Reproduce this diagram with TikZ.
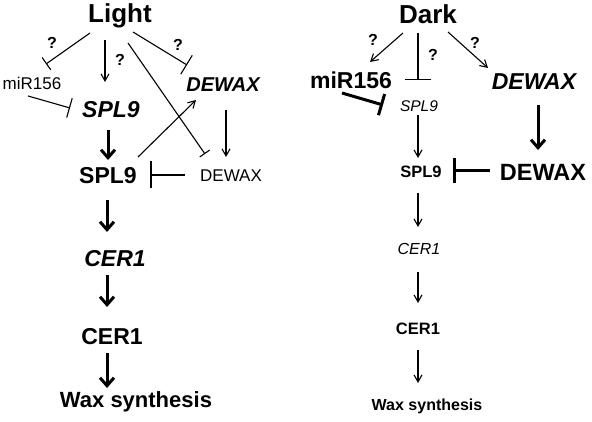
\documentclass[tikz,border=0pt]{standalone}
\usepackage{fontspec}
\setmainfont{Liberation Sans}
\usetikzlibrary{arrows.meta}
\begin{document}
\begin{tikzpicture}[x=1pt,y=-1pt,
  every node/.style={inner sep=0pt,outer sep=0pt},
  lbl/.style={font=\fontsize{#1}{#1}\selectfont},
  blbl/.style={font=\fontsize{#1}{#1}\selectfont\bfseries},
  ilbl/.style={font=\fontsize{#1}{#1}\selectfont\itshape},
  bilbl/.style={font=\fontsize{#1}{#1}\selectfont\bfseries\itshape},
  qm/.style={font=\fontsize{16}{16}\selectfont\bfseries},
  act/.style={line width=1.1pt,-{Straight Barb[length=7pt,width=8pt]}},
  actthick/.style={line width=3pt,-{Straight Barb[length=8pt,width=14pt]}},
  inh/.style={line width=1.1pt,-{Bar[width=#1]}},
  inhthick/.style={line width=3pt,-{Bar[width=#1]}},
]
\useasboundingbox (0,0) rectangle (592,422);
% ---------- Light ----------
\node[blbl=26] (light) at (120,16) {Light};
\node[lbl=17] (mirL) at (32,83) {miR156};
\node[bilbl=23] (splL) at (111,110) {SPL9};
\node[bilbl=20] (dewaxgL) at (223,85) {DEWAX};
\node[blbl=23] (spl9pL) at (108,176) {SPL9};
\node[lbl=17] (dewaxpL) at (231,176) {DEWAX};
\node[bilbl=23] (cer1gL) at (115,259) {CER1};
\node[blbl=23] (cer1pL) at (112,337) {CER1};
\node[blbl=22] (waxL) at (136,402) {Wax synthesis};
\node[qm] (q1) at (52,43) {?};
\node[qm] (q2) at (120,60) {?};
\node[qm] (q3) at (178,45) {?};

\draw[inh=15pt] ([shift={(-30,17)}]light.center) -- ([shift={(14,-19)}]mirL.center);
\draw[act] ([shift={(-15,24)}]light.center) -- ([shift={(-6,-28)}]splL.center);
\draw[inh=20pt] ([shift={(-4,13)}]mirL.center) -- ([shift={(-41,-2)}]splL.center);
\draw[inh=22pt] ([shift={(13,16)}]light.center) -- ([shift={(-36,-20)}]dewaxgL.center);
\draw[inh=12pt] ([shift={(8,27)}]light.center) -- ([shift={(-26,-22)}]dewaxpL.center);
\draw[act] ([shift={(30,-19)}]spl9pL.center) -- ([shift={(-27,15)}]dewaxgL.center);
\draw[act] ([shift={(3,25)}]dewaxgL.center) -- ([shift={(-5,-19)}]dewaxpL.center);
\draw[line width=1.1pt,-{Bar[width=27pt,line width=2pt]}] ([shift={(-46,-1)}]dewaxpL.center) -- ([shift={(42,-1)}]spl9pL.center);
\draw[actthick] ([shift={(-3,20)}]splL.center) -- ([shift={(0,-16)}]spl9pL.center);
\draw[actthick] ([shift={(-1,24)}]spl9pL.center) -- ([shift={(-8,-27)}]cer1gL.center);
\draw[actthick] ([shift={(-8,16)}]cer1gL.center) -- ([shift={(-5,-30)}]cer1pL.center);
\draw[actthick] ([shift={(-5,16)}]cer1pL.center) -- ([shift={(-29,-14)}]waxL.center);

% ---------- Dark ----------
\node[blbl=26] (dark) at (428,14) {Dark};
\node[blbl=23] (mirR) at (351,80) {miR156};
\node[bilbl=23] (dewaxgR) at (534,82) {DEWAX};
\node[ilbl=15.5] (splgR) at (419,106) {SPL9};
\node[blbl=16.5] (splpR) at (421,172) {SPL9};
\node[ilbl=16] (cer1gR) at (419,249) {CER1};
\node[blbl=16.5] (cer1pR) at (418,329) {CER1};
\node[blbl=23.5] (dewaxpR) at (543,172) {DEWAX};
\node[blbl=16] (waxR) at (427,406) {Wax synthesis};
\node[qm] (q4) at (373,40) {?};
\node[qm] (q5) at (433,55) {?};
\node[qm] (q6) at (475,43) {?};

\draw[act] ([shift={(-25,19)}]dark.center) -- ([shift={(19,-18)}]mirR.center);
\draw[line width=1.4pt,-{Bar[width=26pt]}] ([shift={(-10,19)}]dark.center) -- ([shift={(-1,-26)}]splgR.center);
\draw[act] ([shift={(20,18)}]dark.center) -- ([shift={(-46,-14)}]dewaxgR.center);
\draw[inhthick=22pt] ([shift={(-9,13)}]mirR.center) -- ([shift={(-36,-1)}]splgR.center);
\draw[act] ([shift={(-1,9)}]splgR.center) -- ([shift={(-3,-14)}]splpR.center);
\draw[actthick] ([shift={(4,23)}]dewaxgR.center) -- ([shift={(-5,-22)}]dewaxpR.center);
\draw[inhthick=25pt] ([shift={(-53,-1)}]dewaxpR.center) -- ([shift={(32,-1)}]splpR.center);
\draw[act] ([shift={(-3,21)}]splpR.center) -- ([shift={(-1,-22)}]cer1gR.center);
\draw[act] ([shift={(-1,23)}]cer1gR.center) -- ([shift={(0,-26)}]cer1pR.center);
\draw[act] ([shift={(0,21)}]cer1pR.center) -- ([shift={(-9,-23)}]waxR.center);
\end{tikzpicture}
\end{document}
